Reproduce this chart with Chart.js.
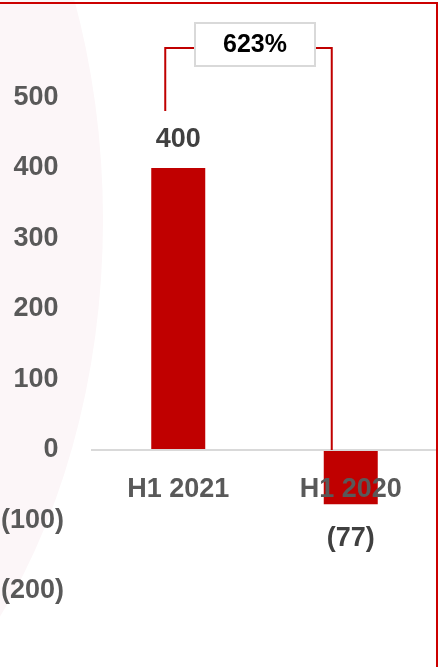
<!DOCTYPE html>
<html>
<head>
<meta charset="utf-8">
<script src="https://cdn.jsdelivr.net/npm/chart.js@4.4.1/dist/chart.umd.min.js"></script>
<style>
  html, body { margin: 0; padding: 0; background: #fff; }
  #wrap { position: relative; width: 439px; height: 667px; }
</style>
</head>
<body>
<div id="wrap"><canvas id="myChart"></canvas></div>
<script>
const periods = ["H1 2021", "H1 2020"];
const values = [400, -77];
const yTicks = [500, 400, 300, 200, 100, 0, -100, -200];
const changeLabel = "623%";

const font = "'Liberation Sans Narrow', 'Liberation Sans', Arial, sans-serif";
const red = "#c00000";
const grey = "#595959";

// excel style: negatives in brackets, positives padded so digits line up
function fmt(v) {
  return v < 0 ? "(" + Math.abs(v) + ")" : v + "\u2009";
}

const backdrop = {
  id: "backdrop",
  beforeDraw(chart) {
    const ctx = chart.ctx;
    ctx.save();
    ctx.fillStyle = "#fff";
    ctx.fillRect(0, 0, chart.width, chart.height);
    ctx.fillStyle = "#fcf6f8";
    ctx.beginPath();
    ctx.ellipse(-300, 220, 403, 594, 0, 0, Math.PI * 2);
    ctx.fill();
    ctx.restore();
  },
  afterDraw(chart) {
    const ctx = chart.ctx;
    ctx.save();
    ctx.strokeStyle = "#cc0000";
    ctx.lineWidth = 2;
    ctx.beginPath();
    ctx.moveTo(0, 3);
    ctx.lineTo(437, 3);
    ctx.lineTo(437, chart.height);
    ctx.stroke();
    ctx.restore();
  }
};

const barLabels = {
  id: "barLabels",
  afterDatasetsDraw(chart) {
    const ctx = chart.ctx;
    ctx.save();
    ctx.font = "bold 27px " + font;
    ctx.fillStyle = "#404040";
    ctx.textAlign = "center";
    ctx.textBaseline = "middle";
    chart.getDatasetMeta(0).data.forEach((bar, i) => {
      const v = values[i];
      const y = v >= 0 ? bar.y - 28 : bar.y + 34;
      ctx.fillText(v < 0 ? "(" + Math.abs(v) + ")" : String(v), bar.x, y);
    });
    ctx.restore();
  }
};

const bracket = {
  id: "bracket",
  afterDraw(chart) {
    const ctx = chart.ctx;
    const bars = chart.getDatasetMeta(0).data;
    const zeroY = chart.scales.y.getPixelForValue(0);
    const lx = bars[0].x - 13;
    const rx = bars[1].x - 19;
    const ly = bars[0].y - 57;
    const topY = 48;
    const boxL = 195, boxR = 315, boxT = 23, boxB = 66;
    ctx.save();
    ctx.strokeStyle = red;
    ctx.lineWidth = 2;
    ctx.beginPath();
    ctx.moveTo(lx, ly);
    ctx.lineTo(lx, topY);
    ctx.lineTo(boxL, topY);
    ctx.moveTo(boxR, topY);
    ctx.lineTo(rx, topY);
    ctx.lineTo(rx, zeroY);
    ctx.stroke();
    ctx.fillStyle = "#fff";
    ctx.fillRect(boxL, boxT, boxR - boxL, boxB - boxT);
    ctx.strokeStyle = "#d9d9d9";
    ctx.strokeRect(boxL, boxT, boxR - boxL, boxB - boxT);
    ctx.fillStyle = "#000";
    ctx.font = "bold 25px 'Liberation Sans', Arial, sans-serif";
    ctx.textAlign = "center";
    ctx.textBaseline = "middle";
    ctx.fillText(changeLabel, (boxL + boxR) / 2, (boxT + boxB) / 2 + 1);
    ctx.restore();
  }
};

new Chart(document.getElementById("myChart"), {
  type: "bar",
  data: {
    labels: periods,
    datasets: [
      {
        data: values,
        backgroundColor: red,
        barPercentage: 0.313,
        categoryPercentage: 1,
      },
    ],
  },
  options: {
    responsive: true,
    maintainAspectRatio: false,
    animation: false,
    layout: { padding: { top: 27, bottom: 5.5, left: 0, right: 2 } },
    plugins: {
      legend: { display: false },
      tooltip: { enabled: false },
    },
    scales: {
      x: {
        position: { y: 0 },
        grid: { display: false, drawTicks: false },
        border: { display: true, color: "#d9d9d9", width: 2, z: 1 },
        ticks: {
          z: 1,
          color: grey,
          font: { family: font, size: 27, weight: "bold" },
          padding: 23,
        },
        afterFit(s) {
          s.paddingLeft = 0;
          s.paddingRight = 0;
        },
      },
      y: {
        min: -300,
        max: 600,
        afterBuildTicks(s) {
          s.ticks = yTicks.map((v) => ({ value: v }));
        },
        afterFit(s) {
          s.width = 92;
          s.paddingTop = 0;
          s.paddingBottom = 0;
        },
        grid: { display: false, drawTicks: false },
        border: { display: false },
        ticks: {
          color: grey,
          font: { family: font, size: 27, weight: "bold" },
          padding: 28,
          callback: (v) => fmt(v),
        },
      },
    },
  },
  plugins: [backdrop, barLabels, bracket],
});
</script>
</body>
</html>
